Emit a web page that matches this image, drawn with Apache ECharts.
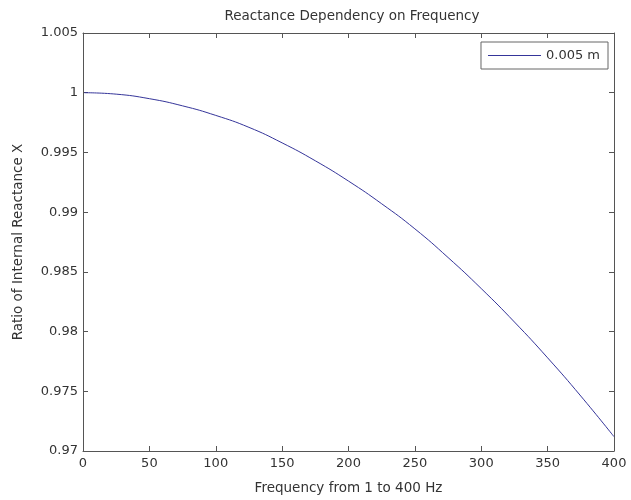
<!DOCTYPE html>
<html>
<head>
<meta charset="utf-8">
<script src="https://cdn.jsdelivr.net/npm/echarts@6/dist/echarts.min.js"></script>
<style>html,body{margin:0;padding:0;background:#fff}#c{width:631px;height:500px}</style>
</head>
<body>
<div id="c"></div>
<script>
var frequencies = [1, 25, 50, 75, 100, 125, 150, 175, 200, 225, 250, 275, 300, 325, 350, 375, 400];
var ratio005 = [1.0000, 0.99988, 0.9995, 0.9989, 0.9981, 0.9971, 0.9958, 0.9943, 0.9926, 0.9907, 0.9886, 0.9862, 0.9836, 0.9808, 0.9778, 0.9746, 0.9712];
var xTicks = [0, 50, 100, 150, 200, 250, 300, 350, 400];
var yTicks = [0.97, 0.975, 0.98, 0.985, 0.99, 0.995, 1, 1.005];
var seriesName = '0.005 m';

var chart = echarts.init(document.getElementById('c'), null, {renderer: 'canvas'});
var font = 'DejaVu Sans, sans-serif';
var axisCol = '#555';
var txtCol = '#333';
var lineCol = '#35359a';
function baseAxis(show) {
  return {
    axisLine: {show: true, onZero: false, lineStyle: {color: axisCol, width: 1}},
    axisTick: {show: true, inside: true, length: 5, lineStyle: {color: axisCol}},
    axisLabel: {show: show, color: txtCol, fontFamily: font, fontSize: 13},
    splitLine: {show: false}
  };
}
var xb = Object.assign(baseAxis(true), {type: 'value', min: xTicks[0], max: xTicks[xTicks.length - 1], interval: 50,
  name: 'Frequency from 1 to 400 Hz', nameLocation: 'middle', nameGap: 30,
  nameTextStyle: {color: txtCol, fontFamily: font, fontSize: 13.5}});
xb.axisLabel.margin = 6;
var xt = Object.assign(baseAxis(false), {type: 'value', position: 'top', min: xTicks[0], max: xTicks[xTicks.length - 1], interval: 50});
var yl = Object.assign(baseAxis(true), {type: 'value', min: yTicks[0], max: yTicks[yTicks.length - 1], interval: 0.005,
  name: 'Ratio of Internal Reactance X', nameLocation: 'middle', nameGap: 58,
  nameTextStyle: {color: txtCol, fontFamily: font, fontSize: 13.5}});
yl.axisLabel.formatter = function (v) { return String(parseFloat(v.toFixed(4))); };
yl.axisLabel.margin = 5;
var yr = Object.assign(baseAxis(false), {type: 'value', position: 'right', min: yTicks[0], max: yTicks[yTicks.length - 1], interval: 0.005});

chart.setOption({
  animation: false,
  backgroundColor: '#fff',
  title: {text: 'Reactance Dependency on Frequency', left: 347, textAlign: 'center', top: 4,
    textStyle: {color: txtCol, fontFamily: font, fontSize: 13.5, fontWeight: 'normal'}},
  grid: {left: 83, right: 17, top: 33, bottom: 49, containLabel: false},
  legend: {show: true, right: 23, top: 42, orient: 'vertical',
    borderColor: '#666', borderWidth: 1, backgroundColor: '#fff', padding: [6, 8, 6, 7],
    icon: 'rect', itemWidth: 53, itemHeight: 1, itemGap: 2,
    textStyle: {color: txtCol, fontFamily: font, fontSize: 13, lineHeight: 15},
    data: [seriesName]},
  xAxis: [xb, xt],
  yAxis: [yl, yr],
  series: [{
    name: seriesName, type: 'line', xAxisIndex: 0, yAxisIndex: 0,
    data: frequencies.map(function (f, i) { return [f, ratio005[i]]; }),
    smooth: true, showSymbol: false, symbol: 'none',
    lineStyle: {color: lineCol, width: 1}, itemStyle: {color: lineCol}
  }]
});
</script>
</body>
</html>
